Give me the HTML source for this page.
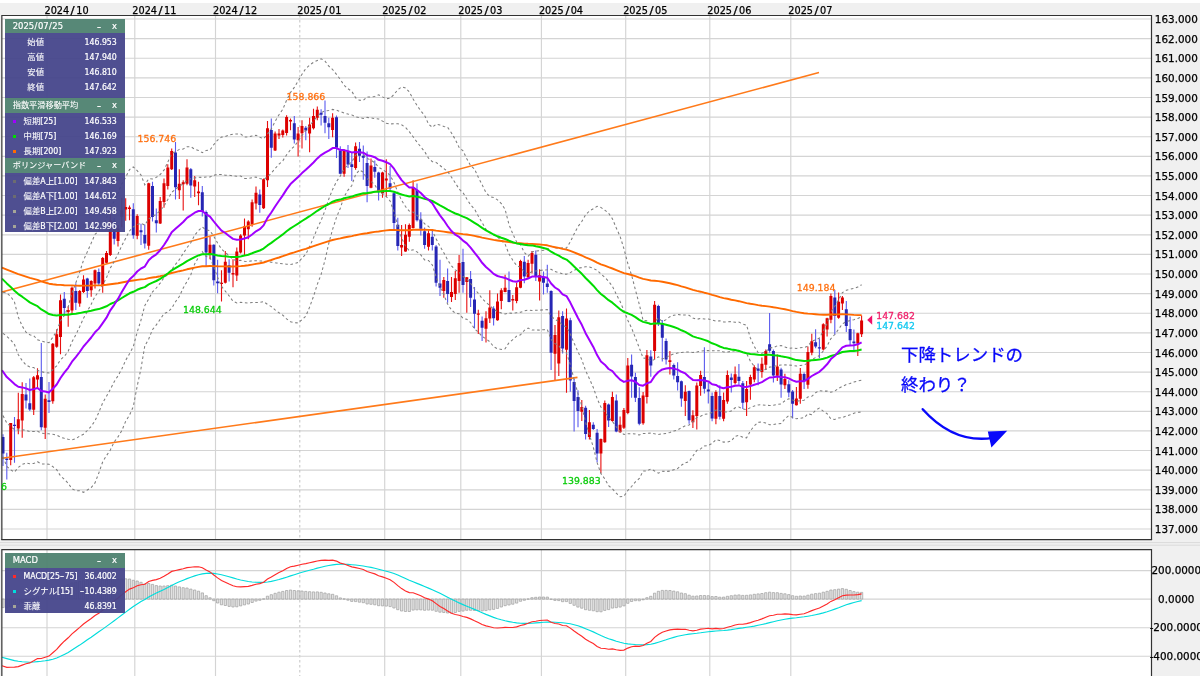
<!DOCTYPE html>
<html lang="ja"><head><meta charset="utf-8"><title>USD/JPY チャート</title>
<style>
html,body{margin:0;padding:0;}
body{width:1200px;height:676px;overflow:hidden;background:#f0f0f0;font-family:"DejaVu Sans","Liberation Sans","Noto Sans CJK JP",sans-serif;}
#app{position:relative;width:1200px;height:676px;overflow:hidden;background:#f0f0f0;}
#topline{position:absolute;left:0;top:0;width:1200px;height:3px;background:#fff;}
svg.chart{position:absolute;left:0;top:0;}
svg.chart text{font-family:"DejaVu Sans","Liberation Sans","Noto Sans CJK JP",sans-serif;}
svg.chart text.jp{font-family:"Liberation Sans","Noto Sans CJK JP",sans-serif;}
.xl{position:absolute;top:4px;font-family:"DejaVu Sans Condensed","DejaVu Sans",sans-serif;font-size:10.8px;line-height:14px;color:#000;white-space:nowrap;-webkit-text-stroke:0.25px #000;}
.xl s{text-decoration:none;margin:0 1.9px;display:inline-block;transform:scaleX(1.25);}
.yl{position:absolute;left:1146px;width:60.6px;text-align:center;font-size:10.4px;line-height:12px;height:12px;color:#000;white-space:nowrap;-webkit-text-stroke:0.25px #000;}
.panel{position:absolute;left:5.2px;width:120px;color:#fff;transform:rotate(0.01deg);font-family:"DejaVu Sans Condensed","DejaVu Sans","Liberation Sans","Noto Sans CJK JP",sans-serif;-webkit-text-stroke:0.2px #fff;}
.panel .hd{background:rgba(77,129,110,0.94);height:14.6px;line-height:15px;position:relative;}
.panel .hd .ttl{position:absolute;left:7.7px;top:0;font-size:9.4px;}
.panel .hd .ttl s{text-decoration:none;margin:0 0.45px;}
.panel .hd .ttl b{font-weight:normal;font-size:8.2px;-webkit-text-stroke:0.08px #fff;}
.panel .hd .mn{position:absolute;left:91.8px;top:0px;font-size:9.6px;display:inline-block;transform:scaleX(1.3);transform-origin:0 50%;margin-top:0.6px;}
.panel .hd .cl{position:absolute;left:106.9px;top:-0.2px;font-size:9.4px;}
.panel .bd{background:rgba(68,68,138,0.94);}
.panel .row{height:15px;line-height:15px;position:absolute;left:0;width:120px;}
.panel .row .k{position:absolute;left:22.3px;top:0;font-size:8.7px;}
.panel .row .k2{position:absolute;left:18.6px;top:0;font-size:8.7px;}
.panel .row b{font-weight:normal;font-size:8.4px;-webkit-text-stroke:0.08px #fff;}
.panel .row .v{position:absolute;right:8.2px;top:0;font-size:8.7px;}
.panel u{text-decoration:none;display:inline-block;width:0.53em;transform:scaleX(1.45);transform-origin:0 50%;}
.panel .row i{position:absolute;left:8.3px;top:6px;width:3px;height:3px;display:block;}
</style></head><body><div id="app">
<div id="topline"></div>
<svg class="chart" width="1200" height="676" viewBox="0 0 1200 676">
<defs><clipPath id="cm"><rect x="1.5" y="15.5" width="1149.5" height="524"/></clipPath><clipPath id="cd"><rect x="1.5" y="550.5" width="1149.5" height="130"/></clipPath></defs>
<rect x="2" y="15" width="1149" height="525" fill="#fff"/>
<rect x="2" y="550" width="1149" height="130" fill="#fff"/>
<path d="M2,529.0H1151M2,509.4H1151M2,489.8H1151M2,470.1H1151M2,450.5H1151M2,430.9H1151M2,411.3H1151M2,391.7H1151M2,372.1H1151M2,352.5H1151M2,332.8H1151M2,313.2H1151M2,293.6H1151M2,274.0H1151M2,254.4H1151M2,234.8H1151M2,215.1H1151M2,195.5H1151M2,175.9H1151M2,156.3H1151M2,136.7H1151M2,117.1H1151M2,97.5H1151M2,77.8H1151M2,58.2H1151M2,38.6H1151M2,19.0H1151" stroke="#d4d4d4" stroke-width="1.15" fill="none"/>
<path d="M47,15V540M47,550V676M134.8,15V540M134.8,550V676M215.5,15V540M215.5,550V676M384.7,15V540M384.7,550V676M460.8,15V540M460.8,550V676M541.4,15V540M541.4,550V676M625.7,15V540M625.7,550V676M709.8,15V540M709.8,550V676M790.8,15V540M790.8,550V676" stroke="#d4d4d4" stroke-width="1.15" fill="none"/>
<path d="M299.8,15V540M299.8,550V676" stroke="#c4c4c4" stroke-width="1" stroke-dasharray="2.5,2.5" fill="none"/>
<path d="M2,570.6H1151M2,599.1H1151M2,627.7H1151M2,656.2H1151" stroke="#d4d4d4" stroke-width="1.15" fill="none"/>
<g clip-path="url(#cm)">
<path d="M10.7,423.1V465.3M18.3,392.8V434.3M22.2,382.3V437.7M33.7,376.1V415.1M37.5,368.2V388.6M45.2,394.5V438.9M52.8,343.1V403.7M56.7,329.3V347.7M60.5,294.5V354.3M68.2,306.2V326.8M72.0,286.6V314.2M79.7,290.0V306.7M83.5,275.3V293.0M91.2,280.3V296.7M95.0,269.4V288.6M102.7,256.9V292.8M106.5,251.0V263.5M110.3,212.5V256.0M118.0,225.0V246.6M121.8,197.8V227.3M125.7,198.3V220.8M129.5,205.4V220.2M137.2,214.2V239.2M148.7,182.7V249.8M160.2,196.9V224.0M164.0,178.5V207.8M167.8,164.3V189.4M171.7,148.4V170.1M179.3,169.3V198.9M183.2,180.2V210.6M187.0,159.3V185.2M194.7,176.0V196.9M198.5,181.8V205.3M210.0,236.7V259.3M221.5,270.2V301.6M225.3,250.9V283.5M233.0,259.3V287.2M236.8,247.6V281.0M240.6,234.2V253.4M244.5,218.6V255.1M248.3,220.3V239.2M252.1,199.4V226.7M256.0,186.5V209.4M263.6,178.5V208.9M267.5,121.0V186.9M275.1,131.4V151.0M279.0,128.9V138.9M282.8,129.4V137.6M286.6,115.2V135.6M290.5,118.5V130.2M298.1,126.9V156.5M302.0,120.2V148.6M309.6,117.7V152.3M313.5,108.8V129.4M317.3,106.5V120.2M332.6,113.2V137.3M344.1,149.2V176.8M355.6,142.4V169.7M371.0,158.5V188.2M382.5,171.8V197.7M386.3,159.2V196.9M401.6,225.0V256.0M405.5,224.3V251.8M409.3,223.4V241.8M413.1,180.2V228.5M428.5,230.3V250.4M443.8,276.9V297.8M451.5,276.9V301.9M455.3,271.0V299.9M459.1,255.1V292.7M466.8,276.9V312.8M478.3,309.8V334.0M486.0,311.3V342.6M489.8,290.2V323.0M497.5,293.6V320.7M501.3,288.2V309.3M505.1,274.8V292.2M512.8,294.9V310.6M516.6,282.7V303.3M520.5,259.8V288.2M528.1,259.8V278.2M532.0,250.9V273.5M539.6,269.3V300.6M555.0,325.1V381.1M558.8,310.6V376.1M566.5,308.4V392.7M581.8,400.1V421.0M589.4,410.1V439.4M600.9,438.6V473.3M604.8,400.6V442.7M612.4,391.7V421.8M620.1,416.5V432.7M623.9,408.1V428.9M627.8,358.0V414.3M643.1,392.1V424.8M646.9,349.9V403.4M654.6,300.9V359.4M669.9,351.1V374.5M685.3,385.2V416.0M692.9,410.3V428.0M696.8,382.6V429.6M700.6,370.7V395.7M715.9,390.2V424.3M723.6,392.6V421.3M727.4,370.6V403.8M735.1,366.6V384.5M746.6,380.9V416.1M750.4,374.8V399.8M754.3,365.3V382.2M761.9,357.4V377.7M765.8,349.4V370.0M777.3,354.5V381.0M784.9,373.8V389.0M796.4,387.1V405.5M800.3,367.9V403.8M807.9,346.5V388.8M811.8,333.8V355.2M823.3,323.2V350.6M827.1,317.7V336.6M830.9,293.4V323.2M838.6,292.6V318.8M842.4,295.9V310.1M857.8,332.7V356.1M861.6,315.5V337.1" stroke="#e81010" stroke-width="1.1" fill="none"/>
<path d="M3.0,434.3V466.1M6.8,452.7V479.5M14.5,417.1V462.8M26.0,383.1V408.4M29.8,378.6V411.0M41.3,343.1V430.2M49.0,382.0V413.1M64.3,292.0V315.0M75.8,283.3V310.0M87.3,277.8V297.8M98.8,268.6V285.3M114.2,218.0V244.4M133.3,203.3V238.7M141.0,223.7V245.0M144.8,224.4V248.5M152.5,181.8V221.6M156.3,208.6V232.4M175.5,142.0V199.4M190.8,168.1V197.7M202.3,186.0V216.6M206.1,210.6V266.0M213.8,244.2V285.6M217.6,259.8V293.2M229.1,259.3V281.5M259.8,189.4V212.8M271.3,118.5V157.7M294.3,116.0V143.5M305.8,126.1V140.3M321.1,109.3V125.6M325.0,100.5V133.2M328.8,117.7V138.9M336.5,115.5V158.0M340.3,146.3V174.3M348.0,145.0V168.0M351.8,153.0V181.0M359.5,142.0V161.9M363.3,145.4V179.8M367.1,151.6V202.2M374.8,160.6V177.7M378.6,171.8V200.6M390.1,166.0V190.0M394.0,191.9V231.0M397.8,217.8V250.4M417.0,183.5V221.6M420.8,212.3V235.4M424.6,227.4V248.8M432.3,229.1V250.4M436.1,245.1V286.6M440.0,259.8V296.1M447.6,268.5V302.8M463.0,248.8V292.7M470.6,271.0V307.0M474.5,286.9V328.4M482.1,316.4V341.0M493.6,306.2V325.4M509.0,271.5V302.3M524.3,256.0V283.2M535.8,250.4V281.0M543.5,271.5V294.4M547.3,264.8V292.7M551.1,290.3V369.9M562.6,311.3V353.5M570.3,317.8V391.8M574.1,378.9V431.5M578.0,390.2V427.2M585.6,405.8V439.4M593.3,422.2V429.9M597.1,428.9V462.3M608.6,403.4V426.9M616.3,394.6V432.2M631.6,354.4V397.7M635.4,372.8V401.9M639.3,387.3V425.2M650.8,350.2V376.7M658.4,304.7V326.0M662.3,320.1V361.6M666.1,338.5V364.4M673.8,363.6V379.4M677.6,362.3V390.4M681.4,380.6V406.8M689.1,390.5V423.8M704.4,347.2V393.6M708.3,383.0V403.5M712.1,392.6V421.3M719.8,385.2V419.6M731.3,373.5V392.6M738.9,364.0V384.7M742.8,381.0V408.9M758.1,363.6V385.3M769.6,313.1V352.8M773.4,349.4V382.4M781.1,367.7V397.7M788.8,380.2V397.2M792.6,390.1V418.6M804.1,372.4V389.0M815.6,329.3V348.2M819.4,338.6V358.3M834.8,290.1V334.4M846.3,300.9V331.9M850.1,316.5V344.9M853.9,329.4V351.1" stroke="#5a5aee" stroke-width="1.1" fill="none"/>
<path d="M9.2,423.1h3V459.9h-3zM16.8,419.3h3V428.5h-3zM20.7,394.0h3V420.6h-3zM32.2,377.3h3V409.8h-3zM36.0,375.3h3V379.4h-3zM43.7,398.7h3V427.7h-3zM51.3,343.8h3V401.2h-3zM55.2,334.3h3V346.8h-3zM59.0,300.3h3V337.1h-3zM66.7,310.0h3V312.0h-3zM70.5,287.8h3V310.4h-3zM78.2,291.0h3V303.5h-3zM82.0,279.4h3V292.0h-3zM89.7,281.1h3V290.3h-3zM93.5,270.2h3V283.6h-3zM101.2,257.9h3V285.3h-3zM105.0,253.0h3V262.7h-3zM108.8,220.5h3V255.1h-3zM116.5,228.5h3V240.9h-3zM120.3,210.2h3V216.7h-3zM124.2,207.0h3V209.5h-3zM128.0,207.5h3V209.0h-3zM135.7,216.1h3V235.7h-3zM147.2,183.3h3V245.8h-3zM158.7,201.1h3V223.6h-3zM162.5,183.2h3V201.9h-3zM166.3,167.6h3V186.0h-3zM170.2,150.9h3V169.3h-3zM177.8,183.8h3V190.2h-3zM181.7,182.2h3V184.3h-3zM185.5,167.6h3V183.8h-3zM193.2,180.2h3V186.5h-3zM197.0,191.5h3V193.2h-3zM208.5,244.7h3V254.3h-3zM220.0,282.7h3V283.9h-3zM223.8,261.8h3V282.7h-3zM231.5,273.1h3V274.4h-3zM235.3,251.4h3V275.5h-3zM239.1,235.4h3V252.6h-3zM243.0,226.2h3V235.4h-3zM246.8,221.6h3V229.2h-3zM250.6,202.2h3V224.5h-3zM254.5,192.7h3V203.6h-3zM262.1,179.3h3V208.3h-3zM266.0,128.2h3V180.2h-3zM273.6,133.6h3V150.5h-3zM277.5,133.5h3V135.5h-3zM281.3,130.6h3V134.9h-3zM285.1,116.9h3V133.0h-3zM289.0,119.9h3V121.5h-3zM296.6,133.5h3V140.2h-3zM300.5,126.1h3V133.2h-3zM308.1,124.4h3V133.6h-3zM312.0,116.0h3V128.2h-3zM315.8,109.8h3V117.7h-3zM331.1,117.7h3V129.9h-3zM342.6,150.6h3V173.8h-3zM354.1,146.3h3V168.0h-3zM369.5,165.6h3V187.7h-3zM381.0,172.6h3V193.2h-3zM384.8,178.5h3V180.5h-3zM400.1,245.1h3V247.6h-3zM404.0,234.8h3V251.4h-3zM407.8,225.1h3V236.8h-3zM411.6,187.7h3V227.9h-3zM427.0,233.3h3V246.8h-3zM442.3,279.9h3V291.1h-3zM450.0,291.9h3V296.9h-3zM453.8,278.2h3V293.9h-3zM457.6,263.1h3V281.0h-3zM465.3,277.2h3V281.9h-3zM476.8,313.5h3V314.8h-3zM484.5,318.2h3V328.8h-3zM488.3,307.6h3V318.5h-3zM496.0,301.6h3V320.2h-3zM499.8,290.2h3V301.1h-3zM503.6,287.7h3V291.9h-3zM511.3,298.9h3V300.6h-3zM515.1,287.2h3V301.1h-3zM519.0,261.0h3V287.7h-3zM526.6,263.1h3V277.2h-3zM530.5,253.1h3V263.8h-3zM538.1,275.2h3V281.5h-3zM553.5,335.1h3V353.8h-3zM557.3,317.2h3V363.5h-3zM565.0,318.5h3V349.8h-3zM580.3,407.1h3V411.8h-3zM587.9,422.2h3V436.9h-3zM599.4,438.9h3V453.6h-3zM603.3,403.0h3V442.2h-3zM610.9,396.9h3V421.0h-3zM618.6,424.8h3V432.2h-3zM622.4,410.1h3V427.7h-3zM626.3,365.5h3V413.1h-3zM641.6,395.4h3V423.2h-3zM645.4,355.3h3V397.1h-3zM653.1,304.7h3V351.1h-3zM668.4,360.3h3V362.0h-3zM683.8,391.7h3V400.9h-3zM691.4,415.2h3V422.2h-3zM695.3,385.4h3V416.0h-3zM699.1,375.0h3V386.0h-3zM714.4,392.0h3V418.8h-3zM722.1,400.0h3V418.7h-3zM725.9,374.9h3V401.6h-3zM733.6,374.3h3V383.1h-3zM745.1,388.9h3V402.2h-3zM748.9,376.9h3V384.6h-3zM752.8,367.2h3V379.6h-3zM760.4,363.8h3V372.0h-3zM764.3,351.0h3V364.8h-3zM775.8,366.6h3V375.8h-3zM783.4,378.9h3V385.3h-3zM794.9,398.5h3V405.2h-3zM798.8,373.7h3V398.8h-3zM806.4,352.0h3V384.7h-3zM810.3,341.3h3V352.8h-3zM821.8,324.3h3V349.4h-3zM825.6,318.2h3V329.4h-3zM829.4,295.9h3V319.8h-3zM837.1,301.8h3V317.7h-3zM840.9,297.6h3V303.4h-3zM856.3,333.2h3V343.6h-3zM860.1,320.5h3V334.3h-3z" fill="#dc0000"/>
<path d="M1.5,436.9h3V453.6h-3zM5.3,458.6h3V460.0h-3zM13.0,424.8h3V426.0h-3zM24.5,394.5h3V400.6h-3zM28.3,403.2h3V409.6h-3zM39.8,376.9h3V427.2h-3zM47.5,400.3h3V402.0h-3zM62.8,298.7h3V308.0h-3zM74.3,291.1h3V302.8h-3zM85.8,278.6h3V291.1h-3zM97.3,271.9h3V283.6h-3zM112.7,221.0h3V238.8h-3zM131.8,209.2h3V235.3h-3zM139.5,230.3h3V232.3h-3zM143.3,235.0h3V243.6h-3zM151.0,186.0h3V217.0h-3zM154.8,220.3h3V223.3h-3zM174.0,152.6h3V187.2h-3zM189.3,169.3h3V185.5h-3zM200.8,192.2h3V211.1h-3zM204.6,211.9h3V252.6h-3zM212.3,244.7h3V280.2h-3zM216.1,281.5h3V283.2h-3zM227.6,265.2h3V272.7h-3zM258.3,194.4h3V204.9h-3zM269.8,129.9h3V147.7h-3zM292.8,123.2h3V139.6h-3zM304.3,127.7h3V130.6h-3zM319.6,112.7h3V114.8h-3zM323.5,116.0h3V122.7h-3zM327.3,123.2h3V127.2h-3zM335.0,117.2h3V147.7h-3zM338.8,150.6h3V173.8h-3zM346.5,151.8h3V164.6h-3zM350.3,164.2h3V166.9h-3zM358.0,148.8h3V155.8h-3zM361.8,155.8h3V157.7h-3zM365.6,163.0h3V186.0h-3zM373.3,167.0h3V171.8h-3zM377.1,172.6h3V191.0h-3zM388.6,183.2h3V188.5h-3zM392.5,193.2h3V223.0h-3zM396.3,224.8h3V245.9h-3zM415.5,189.9h3V220.3h-3zM419.3,219.5h3V228.7h-3zM423.1,231.3h3V245.1h-3zM430.8,236.8h3V245.1h-3zM434.6,246.4h3V282.7h-3zM438.5,283.5h3V287.7h-3zM446.1,281.0h3V293.9h-3zM461.5,262.1h3V284.9h-3zM469.1,278.9h3V297.8h-3zM473.0,299.4h3V313.8h-3zM480.6,320.8h3V327.8h-3zM492.1,308.6h3V318.2h-3zM507.5,289.9h3V301.9h-3zM522.8,261.8h3V276.5h-3zM534.3,254.8h3V276.9h-3zM542.0,276.9h3V282.7h-3zM545.8,283.5h3V286.9h-3zM549.6,291.1h3V352.7h-3zM561.1,316.0h3V348.5h-3zM568.8,320.2h3V380.5h-3zM572.6,382.0h3V401.0h-3zM576.5,396.9h3V411.1h-3zM584.1,407.7h3V433.9h-3zM591.8,424.8h3V428.9h-3zM595.6,432.7h3V453.6h-3zM607.1,404.4h3V420.5h-3zM614.8,400.6h3V431.5h-3zM630.1,364.7h3V376.4h-3zM633.9,377.0h3V397.7h-3zM637.8,398.1h3V423.8h-3zM649.3,356.6h3V365.6h-3zM656.9,305.9h3V323.8h-3zM660.8,323.8h3V337.7h-3zM664.6,341.0h3V359.4h-3zM672.3,365.0h3V375.5h-3zM676.1,376.0h3V382.2h-3zM679.9,381.3h3V398.4h-3zM687.6,391.0h3V420.2h-3zM702.9,377.0h3V388.8h-3zM706.8,389.5h3V391.6h-3zM710.6,396.0h3V418.4h-3zM718.3,396.0h3V416.7h-3zM729.8,377.5h3V380.0h-3zM737.4,376.8h3V381.0h-3zM741.3,383.2h3V402.7h-3zM756.6,368.5h3V370.8h-3zM768.1,344.2h3V350.8h-3zM771.9,351.0h3V375.5h-3zM779.6,369.6h3V384.6h-3zM787.3,384.2h3V392.6h-3zM791.1,391.5h3V403.8h-3zM802.6,374.1h3V381.3h-3zM814.1,342.2h3V346.6h-3zM817.9,347.3h3V348.6h-3zM833.3,297.6h3V316.0h-3zM844.8,309.3h3V326.0h-3zM848.6,328.9h3V340.2h-3zM852.4,341.6h3V343.2h-3z" fill="#2626b4"/>
<path d="M2,292L819,72.5" stroke="#ff7a1a" stroke-width="1.6" fill="none"/>
<path d="M2,458.2L577.5,377.4" stroke="#ff7a1a" stroke-width="1.6" fill="none"/>
<path d="M3.0,292.2 L6.8,292.9 L10.7,296.5 L14.5,302.1 L18.3,317.1 L22.2,326.0 L26.0,332.1 L29.8,334.8 L33.7,335.7 L37.5,339.8 L41.3,341.0 L45.2,342.2 L49.0,342.6 L52.8,337.2 L56.7,331.1 L60.5,320.9 L64.3,315.5 L68.2,307.1 L72.0,292.8 L75.8,282.9 L79.7,272.1 L83.5,260.2 L87.3,251.9 L91.2,243.1 L95.0,234.4 L98.8,230.7 L102.7,225.8 L106.5,218.4 L110.3,207.4 L114.2,201.2 L118.0,193.0 L121.8,183.9 L125.7,177.2 L129.5,169.6 L133.3,167.0 L137.2,170.7 L141.0,175.0 L144.8,184.8 L148.7,178.8 L152.5,178.9 L156.3,177.4 L160.2,174.5 L164.0,170.1 L167.8,162.1 L171.7,153.6 L175.5,151.8 L179.3,149.4 L183.2,149.1 L187.0,146.8 L190.8,146.7 L194.7,149.2 L198.5,150.4 L202.3,152.7 L206.1,150.5 L210.0,150.0 L213.8,144.6 L217.6,140.1 L221.5,137.1 L225.3,136.6 L229.1,135.0 L233.0,134.1 L236.8,133.9 L240.6,133.9 L244.5,136.9 L248.3,137.1 L252.1,135.9 L256.0,135.2 L259.8,137.2 L263.6,138.8 L267.5,134.2 L271.3,128.8 L275.1,121.5 L279.0,114.7 L282.8,109.3 L286.6,100.2 L290.5,92.5 L294.3,87.4 L298.1,81.0 L302.0,74.2 L305.8,68.5 L309.6,65.1 L313.5,62.3 L317.3,60.5 L321.1,58.8 L325.0,61.1 L328.8,66.2 L332.6,69.5 L336.5,74.4 L340.3,79.4 L344.1,85.2 L348.0,88.8 L351.8,91.3 L355.6,97.8 L359.5,100.3 L363.3,100.4 L367.1,97.0 L371.0,96.9 L374.8,96.5 L378.6,94.8 L382.5,96.9 L386.3,98.7 L390.1,98.2 L394.0,94.5 L397.8,89.7 L401.6,87.0 L405.5,87.9 L409.3,91.9 L413.1,99.1 L417.0,105.4 L420.8,110.9 L424.6,115.4 L428.5,124.0 L432.3,127.3 L436.1,124.2 L440.0,125.1 L443.8,126.4 L447.6,127.3 L451.5,133.0 L455.3,139.5 L459.1,147.4 L463.0,150.8 L466.8,158.8 L470.6,165.6 L474.5,169.0 L478.3,177.3 L482.1,184.7 L486.0,192.7 L489.8,196.5 L493.6,197.6 L497.5,199.8 L501.3,203.6 L505.1,209.3 L509.0,224.6 L512.8,233.8 L516.6,242.0 L520.5,244.7 L524.3,252.5 L528.1,256.3 L532.0,252.0 L535.8,251.1 L539.6,250.7 L543.5,250.2 L547.3,250.0 L551.1,246.0 L555.0,247.6 L558.8,248.4 L562.6,247.8 L566.5,248.1 L570.3,241.9 L574.1,234.0 L578.0,226.5 L581.8,221.5 L585.6,214.8 L589.4,211.0 L593.3,208.8 L597.1,206.4 L600.9,207.4 L604.8,210.2 L608.6,213.2 L612.4,218.8 L616.3,228.0 L620.1,236.4 L623.9,248.6 L627.8,263.4 L631.6,275.3 L635.4,289.7 L639.3,304.4 L643.1,320.4 L646.9,320.8 L650.8,325.2 L654.6,322.3 L658.4,318.0 L662.3,321.6 L666.1,319.6 L669.9,316.7 L673.8,315.3 L677.6,314.4 L681.4,315.0 L685.3,315.0 L689.1,315.3 L692.9,318.0 L696.8,319.3 L700.6,318.5 L704.4,319.0 L708.3,319.0 L712.1,320.0 L715.9,321.1 L719.8,320.8 L723.6,322.0 L727.4,321.9 L731.3,321.6 L735.1,322.3 L738.9,322.1 L742.8,324.1 L746.6,325.3 L750.4,338.0 L754.3,346.5 L758.1,352.6 L761.9,353.3 L765.8,351.6 L769.6,347.9 L773.4,347.5 L777.3,345.8 L781.1,345.6 L784.9,346.9 L788.8,348.3 L792.6,347.9 L796.4,348.5 L800.3,347.7 L804.1,347.5 L807.9,346.1 L811.8,341.1 L815.6,340.0 L819.4,338.0 L823.3,330.9 L827.1,323.5 L830.9,311.9 L834.8,306.2 L838.6,299.7 L842.4,292.6 L846.3,290.2 L850.1,289.2 L853.9,288.5 L857.8,287.1 L861.6,284.8" stroke="#7e7e7e" stroke-width="1.05" stroke-dasharray="2.6,2.6" fill="none"/>
<path d="M3.0,333.3 L6.8,336.3 L10.7,339.8 L14.5,344.6 L18.3,354.7 L22.2,360.6 L26.0,364.9 L29.8,367.0 L33.7,367.6 L37.5,370.2 L41.3,371.7 L45.2,372.6 L49.0,373.0 L52.8,369.6 L56.7,365.8 L60.5,359.7 L64.3,356.4 L68.2,351.2 L72.0,341.8 L75.8,334.8 L79.7,326.7 L83.5,318.3 L87.3,311.4 L91.2,304.2 L95.0,296.5 L98.8,291.3 L102.7,284.8 L106.5,277.7 L110.3,268.1 L114.2,261.4 L118.0,253.9 L121.8,245.6 L125.7,238.2 L129.5,231.0 L133.3,226.9 L137.2,224.5 L141.0,223.3 L144.8,225.1 L148.7,218.9 L152.5,216.6 L156.3,214.3 L160.2,210.7 L164.0,206.0 L167.8,199.5 L171.7,192.3 L175.5,189.3 L179.3,186.2 L183.2,183.9 L187.0,180.4 L190.8,178.7 L194.7,177.9 L198.5,177.2 L202.3,177.4 L206.1,177.0 L210.0,176.9 L213.8,175.2 L217.6,174.4 L221.5,174.4 L225.3,175.3 L229.1,175.2 L233.0,175.9 L236.8,176.2 L240.6,176.0 L244.5,178.4 L248.3,178.5 L252.1,177.6 L256.0,177.0 L259.8,178.5 L263.6,179.5 L267.5,176.7 L271.3,173.2 L275.1,168.6 L279.0,164.2 L282.8,160.8 L286.6,154.8 L290.5,149.8 L294.3,146.2 L298.1,141.4 L302.0,135.5 L305.8,130.4 L309.6,125.6 L313.5,120.9 L317.3,116.5 L321.1,112.7 L325.0,110.8 L328.8,110.5 L332.6,109.4 L336.5,110.2 L340.3,111.6 L344.1,113.1 L348.0,114.1 L351.8,114.9 L355.6,116.9 L359.5,117.7 L363.3,118.4 L367.1,117.4 L371.0,118.0 L374.8,118.6 L378.6,118.9 L382.5,121.1 L386.3,123.2 L390.1,123.9 L394.0,123.8 L397.8,123.8 L401.6,124.8 L405.5,127.4 L409.3,131.6 L413.1,136.8 L417.0,142.1 L420.8,146.9 L424.6,151.5 L428.5,158.1 L432.3,161.7 L436.1,162.4 L440.0,165.5 L443.8,168.5 L447.6,171.5 L451.5,177.2 L455.3,182.9 L459.1,189.0 L463.0,192.7 L466.8,198.9 L470.6,204.9 L474.5,209.0 L478.3,216.0 L482.1,222.6 L486.0,229.3 L489.8,232.9 L493.6,234.8 L497.5,237.1 L501.3,240.1 L505.1,244.2 L509.0,254.1 L512.8,260.3 L516.6,265.5 L520.5,267.2 L524.3,272.0 L528.1,274.2 L532.0,271.5 L535.8,270.9 L539.6,270.5 L543.5,270.0 L547.3,269.8 L551.1,269.3 L555.0,271.6 L558.8,272.6 L562.6,273.8 L566.5,274.3 L570.3,272.6 L574.1,270.4 L578.0,268.3 L581.8,267.6 L585.6,266.7 L589.4,266.9 L593.3,268.4 L597.1,270.4 L600.9,274.0 L604.8,277.4 L608.6,281.3 L612.4,286.3 L616.3,294.3 L620.1,301.5 L623.9,310.5 L627.8,320.2 L631.6,328.1 L635.4,337.7 L639.3,347.9 L643.1,358.1 L646.9,358.3 L650.8,361.2 L654.6,359.4 L658.4,356.8 L662.3,359.0 L666.1,357.6 L669.9,355.3 L673.8,353.9 L677.6,353.0 L681.4,352.5 L685.3,351.9 L689.1,351.9 L692.9,352.5 L696.8,352.1 L700.6,351.1 L704.4,350.7 L708.3,350.6 L712.1,350.8 L715.9,350.8 L719.8,350.7 L723.6,352.0 L727.4,352.0 L731.3,351.4 L735.1,350.8 L738.9,350.4 L742.8,352.3 L746.6,353.4 L750.4,361.2 L754.3,366.3 L758.1,370.1 L761.9,370.5 L765.8,369.4 L769.6,367.1 L773.4,366.8 L777.3,365.3 L781.1,365.1 L784.9,364.9 L788.8,365.1 L792.6,365.3 L796.4,366.0 L800.3,365.4 L804.1,365.0 L807.9,363.0 L811.8,359.5 L815.6,357.6 L819.4,355.5 L823.3,351.0 L827.1,346.0 L830.9,338.6 L834.8,334.5 L838.6,329.2 L842.4,323.9 L846.3,321.6 L850.1,320.6 L853.9,319.7 L857.8,318.4 L861.6,316.7" stroke="#7e7e7e" stroke-width="1.05" stroke-dasharray="2.6,2.6" fill="none"/>
<path d="M3.0,415.6 L6.8,423.1 L10.7,426.4 L14.5,429.6 L18.3,429.9 L22.2,429.8 L26.0,430.3 L29.8,431.5 L33.7,431.5 L37.5,431.2 L41.3,433.1 L45.2,433.5 L49.0,433.8 L52.8,434.3 L56.7,435.0 L60.5,437.2 L64.3,438.3 L68.2,439.3 L72.0,439.8 L75.8,438.7 L79.7,436.1 L83.5,434.3 L87.3,430.5 L91.2,426.4 L95.0,420.8 L98.8,412.4 L102.7,402.8 L106.5,396.3 L110.3,389.4 L114.2,381.7 L118.0,375.9 L121.8,369.0 L125.7,360.2 L129.5,353.8 L133.3,346.7 L137.2,332.2 L141.0,320.1 L144.8,305.6 L148.7,299.0 L152.5,291.9 L156.3,288.0 L160.2,283.1 L164.0,277.7 L167.8,274.5 L171.7,269.6 L175.5,264.3 L179.3,259.7 L183.2,253.4 L187.0,247.7 L190.8,242.7 L194.7,235.2 L198.5,230.6 L202.3,227.0 L206.1,230.0 L210.0,230.6 L213.8,236.4 L217.6,243.0 L221.5,249.1 L225.3,252.6 L229.1,255.6 L233.0,259.5 L236.8,260.7 L240.6,260.2 L244.5,261.3 L248.3,261.5 L252.1,260.8 L256.0,260.7 L259.8,261.0 L263.6,260.9 L267.5,261.8 L271.3,262.2 L275.1,262.8 L279.0,263.3 L282.8,263.7 L286.6,264.2 L290.5,264.4 L294.3,263.8 L298.1,262.4 L302.0,258.2 L305.8,254.2 L309.6,246.6 L313.5,237.9 L317.3,228.4 L321.1,220.5 L325.0,210.4 L328.8,199.0 L332.6,189.4 L336.5,181.6 L340.3,176.0 L344.1,168.8 L348.0,164.8 L351.8,162.0 L355.6,155.2 L359.5,152.6 L363.3,154.3 L367.1,158.3 L371.0,160.3 L374.8,162.7 L378.6,167.2 L382.5,169.5 L386.3,172.1 L390.1,175.3 L394.0,182.5 L397.8,192.1 L401.6,200.4 L405.5,206.5 L409.3,211.1 L413.1,212.1 L417.0,215.3 L420.8,218.9 L424.6,223.8 L428.5,226.4 L432.3,230.6 L436.1,238.7 L440.0,246.4 L443.8,252.7 L447.6,259.9 L451.5,265.8 L455.3,269.9 L459.1,272.2 L463.0,276.4 L466.8,279.2 L470.6,283.3 L474.5,289.0 L478.3,293.3 L482.1,298.6 L486.0,302.3 L489.8,305.5 L493.6,309.3 L497.5,311.6 L501.3,313.0 L505.1,313.9 L509.0,313.1 L512.8,313.2 L516.6,312.7 L520.5,312.3 L524.3,310.9 L528.1,310.1 L532.0,310.5 L535.8,310.3 L539.6,310.2 L543.5,309.8 L547.3,309.6 L551.1,316.1 L555.0,319.6 L558.8,321.1 L562.6,325.7 L566.5,326.8 L570.3,333.9 L574.1,343.1 L578.0,351.8 L581.8,359.7 L585.6,370.6 L589.4,378.7 L593.3,387.5 L597.1,398.5 L600.9,407.0 L604.8,411.7 L608.6,417.5 L612.4,421.3 L616.3,426.9 L620.1,431.6 L623.9,434.4 L627.8,433.7 L631.6,433.7 L635.4,433.9 L639.3,435.0 L643.1,433.5 L646.9,433.4 L650.8,433.1 L654.6,433.8 L658.4,434.4 L662.3,433.8 L666.1,433.5 L669.9,432.5 L673.8,431.1 L677.6,430.0 L681.4,427.6 L685.3,425.8 L689.1,425.1 L692.9,421.5 L696.8,417.6 L700.6,416.3 L704.4,414.2 L708.3,413.9 L712.1,412.6 L715.9,410.0 L719.8,410.6 L723.6,412.1 L727.4,412.0 L731.3,411.1 L735.1,407.8 L738.9,407.0 L742.8,408.9 L746.6,409.7 L750.4,407.6 L754.3,406.0 L758.1,404.9 L761.9,404.8 L765.8,405.2 L769.6,405.5 L773.4,405.3 L777.3,404.3 L781.1,403.9 L784.9,400.8 L788.8,398.8 L792.6,400.0 L796.4,401.2 L800.3,400.7 L804.1,400.2 L807.9,396.9 L811.8,396.3 L815.6,392.7 L819.4,390.6 L823.3,391.1 L827.1,391.1 L830.9,392.2 L834.8,391.1 L838.6,388.3 L842.4,386.4 L846.3,384.5 L850.1,383.4 L853.9,382.1 L857.8,381.0 L861.6,380.3" stroke="#7e7e7e" stroke-width="1.05" stroke-dasharray="2.6,2.6" fill="none"/>
<path d="M3.0,456.8 L6.8,466.5 L10.7,469.8 L14.5,472.1 L18.3,467.5 L22.2,464.4 L26.0,463.0 L29.8,463.7 L33.7,463.5 L37.5,461.7 L41.3,463.9 L45.2,464.0 L49.0,464.2 L52.8,466.6 L56.7,469.7 L60.5,476.0 L64.3,479.2 L68.2,483.3 L72.0,488.8 L75.8,490.7 L79.7,490.7 L83.5,492.3 L87.3,490.0 L91.2,487.5 L95.0,482.9 L98.8,473.0 L102.7,461.8 L106.5,455.6 L110.3,450.1 L114.2,441.9 L118.0,436.9 L121.8,430.7 L125.7,421.2 L129.5,415.2 L133.3,406.6 L137.2,386.1 L141.0,368.4 L144.8,345.9 L148.7,339.0 L152.5,329.6 L156.3,324.9 L160.2,319.3 L164.0,313.6 L167.8,312.0 L171.7,308.2 L175.5,301.8 L179.3,296.5 L183.2,288.1 L187.0,281.4 L190.8,274.7 L194.7,263.9 L198.5,257.4 L202.3,251.7 L206.1,256.5 L210.0,257.5 L213.8,267.0 L217.6,277.3 L221.5,286.4 L225.3,291.2 L229.1,295.8 L233.0,301.3 L236.8,303.0 L240.6,302.3 L244.5,302.8 L248.3,303.0 L252.1,302.5 L256.0,302.5 L259.8,302.3 L263.6,301.6 L267.5,304.4 L271.3,306.6 L275.1,309.9 L279.0,312.8 L282.8,315.2 L286.6,318.9 L290.5,321.7 L294.3,322.6 L298.1,322.9 L302.0,319.6 L305.8,316.1 L309.6,307.1 L313.5,296.4 L317.3,284.4 L321.1,274.4 L325.0,260.1 L328.8,243.3 L332.6,229.3 L336.5,217.4 L340.3,208.2 L344.1,196.7 L348.0,190.1 L351.8,185.5 L355.6,174.4 L359.5,170.0 L363.3,172.2 L367.1,178.7 L371.0,181.4 L374.8,184.8 L378.6,191.4 L382.5,193.7 L386.3,196.6 L390.1,201.0 L394.0,211.9 L397.8,226.2 L401.6,238.1 L405.5,246.1 L409.3,250.8 L413.1,249.8 L417.0,251.9 L420.8,254.9 L424.6,259.9 L428.5,260.5 L432.3,265.0 L436.1,276.8 L440.0,286.9 L443.8,294.8 L447.6,304.1 L451.5,310.0 L455.3,313.3 L459.1,313.8 L463.0,318.3 L466.8,319.3 L470.6,322.5 L474.5,329.0 L478.3,332.0 L482.1,336.5 L486.0,338.8 L489.8,341.8 L493.6,346.6 L497.5,348.8 L501.3,349.4 L505.1,348.8 L509.0,342.6 L512.8,339.7 L516.6,336.2 L520.5,334.8 L524.3,330.4 L528.1,328.1 L532.0,330.0 L535.8,330.0 L539.6,330.1 L543.5,329.7 L547.3,329.5 L551.1,339.4 L555.0,343.6 L558.8,345.4 L562.6,351.7 L566.5,353.0 L570.3,364.6 L574.1,379.4 L578.0,393.6 L581.8,405.7 L585.6,422.5 L589.4,434.6 L593.3,447.1 L597.1,462.6 L600.9,473.6 L604.8,478.9 L608.6,485.7 L612.4,488.8 L616.3,493.2 L620.1,496.7 L623.9,496.3 L627.8,490.5 L631.6,486.5 L635.4,481.9 L639.3,478.5 L643.1,471.1 L646.9,471.0 L650.8,469.0 L654.6,471.0 L658.4,473.2 L662.3,471.2 L666.1,471.5 L669.9,471.1 L673.8,469.7 L677.6,468.6 L681.4,465.2 L685.3,462.8 L689.1,461.7 L692.9,456.0 L696.8,450.4 L700.6,448.9 L704.4,445.9 L708.3,445.5 L712.1,443.5 L715.9,439.7 L719.8,440.6 L723.6,442.1 L727.4,442.0 L731.3,441.0 L735.1,436.3 L738.9,435.4 L742.8,437.2 L746.6,437.8 L750.4,430.8 L754.3,425.9 L758.1,422.4 L761.9,422.0 L765.8,423.1 L769.6,424.7 L773.4,424.6 L777.3,423.8 L781.1,423.4 L784.9,418.8 L788.8,415.6 L792.6,417.4 L796.4,418.8 L800.3,418.3 L804.1,417.7 L807.9,413.8 L811.8,414.7 L815.6,410.2 L819.4,408.1 L823.3,411.1 L827.1,413.7 L830.9,419.0 L834.8,419.4 L838.6,417.9 L842.4,417.7 L846.3,416.0 L850.1,414.8 L853.9,413.3 L857.8,412.2 L861.6,412.1" stroke="#7e7e7e" stroke-width="1.05" stroke-dasharray="2.6,2.6" fill="none"/>
<path d="M2.0,267.7 L6.8,269.6 L10.7,271.1 L14.5,272.7 L18.3,274.1 L22.2,275.3 L26.0,276.6 L29.8,277.9 L33.7,278.9 L37.5,279.9 L41.3,281.3 L45.2,282.5 L49.0,283.7 L52.8,284.3 L56.7,284.8 L60.5,284.9 L64.3,285.2 L68.2,285.4 L72.0,285.4 L75.8,285.6 L79.7,285.7 L83.5,285.6 L87.3,285.6 L91.2,285.6 L95.0,285.4 L98.8,285.4 L102.7,285.2 L106.5,284.8 L110.3,284.2 L114.2,283.7 L118.0,283.2 L121.8,282.5 L125.7,281.7 L129.5,281.0 L133.3,280.5 L137.2,279.9 L141.0,279.4 L144.8,279.1 L148.7,278.1 L152.5,277.5 L156.3,277.0 L160.2,276.2 L164.0,275.3 L167.8,274.2 L171.7,273.0 L175.5,272.1 L179.3,271.2 L183.2,270.4 L187.0,269.3 L190.8,268.5 L194.7,267.6 L198.5,266.9 L202.3,266.3 L206.1,266.2 L210.0,266.0 L213.8,266.1 L217.6,266.3 L221.5,266.4 L225.3,266.4 L229.1,266.5 L233.0,266.5 L236.8,266.4 L240.6,266.1 L244.5,265.7 L248.3,265.2 L252.1,264.6 L256.0,263.9 L259.8,263.3 L263.6,262.5 L267.5,261.1 L271.3,260.0 L275.1,258.7 L279.0,257.5 L282.8,256.2 L286.6,254.8 L290.5,253.5 L294.3,252.4 L298.1,251.2 L302.0,249.9 L305.8,248.8 L309.6,247.5 L313.5,246.2 L317.3,244.8 L321.1,243.6 L325.0,242.4 L328.8,241.2 L332.6,240.0 L336.5,239.1 L340.3,238.4 L344.1,237.5 L348.0,236.8 L351.8,236.1 L355.6,235.2 L359.5,234.4 L363.3,233.7 L367.1,233.2 L371.0,232.5 L374.8,231.9 L378.6,231.5 L382.5,230.9 L386.3,230.4 L390.1,230.0 L394.0,229.9 L397.8,230.1 L401.6,230.2 L405.5,230.3 L409.3,230.2 L413.1,229.8 L417.0,229.7 L420.8,229.7 L424.6,229.8 L428.5,229.9 L432.3,230.0 L436.1,230.6 L440.0,231.1 L443.8,231.6 L447.6,232.2 L451.5,232.8 L455.3,233.3 L459.1,233.6 L463.0,234.1 L466.8,234.5 L470.6,235.1 L474.5,235.9 L478.3,236.7 L482.1,237.6 L486.0,238.4 L489.8,239.1 L493.6,239.9 L497.5,240.5 L501.3,241.0 L505.1,241.5 L509.0,242.1 L512.8,242.6 L516.6,243.1 L520.5,243.2 L524.3,243.6 L528.1,243.8 L532.0,243.9 L535.8,244.2 L539.6,244.5 L543.5,244.9 L547.3,245.3 L551.1,246.4 L555.0,247.2 L558.8,247.9 L562.6,248.9 L566.5,249.6 L570.3,250.9 L574.1,252.4 L578.0,254.0 L581.8,255.5 L585.6,257.3 L589.4,258.9 L593.3,260.6 L597.1,262.6 L600.9,264.3 L604.8,265.7 L608.6,267.2 L612.4,268.5 L616.3,270.1 L620.1,271.7 L623.9,273.1 L627.8,274.0 L631.6,275.0 L635.4,276.2 L639.3,277.7 L643.1,278.9 L646.9,279.6 L650.8,280.5 L654.6,280.7 L658.4,281.1 L662.3,281.7 L666.1,282.5 L669.9,283.3 L673.8,284.2 L677.6,285.1 L681.4,286.3 L685.3,287.3 L689.1,288.6 L692.9,289.9 L696.8,290.9 L700.6,291.7 L704.4,292.7 L708.3,293.6 L712.1,294.9 L715.9,295.9 L719.8,297.1 L723.6,298.1 L727.4,298.8 L731.3,299.7 L735.1,300.4 L738.9,301.2 L742.8,302.2 L746.6,303.1 L750.4,303.8 L754.3,304.4 L758.1,305.1 L761.9,305.7 L765.8,306.1 L769.6,306.6 L773.4,307.3 L777.3,307.9 L781.1,308.6 L784.9,309.3 L788.8,310.1 L792.6,311.1 L796.4,311.9 L800.3,312.6 L804.1,313.2 L807.9,313.6 L811.8,313.9 L815.6,314.2 L819.4,314.6 L823.3,314.7 L827.1,314.7 L830.9,314.5 L834.8,314.5 L838.6,314.4 L842.4,314.2 L846.3,314.4 L850.1,314.6 L853.9,314.9 L857.8,315.1 L861.6,315.1" stroke="#ff6a00" stroke-width="1.9" fill="none" stroke-linejoin="round"/>
<path d="M2.0,278.6 L6.8,283.4 L10.7,287.1 L14.5,290.7 L18.3,294.1 L22.2,296.7 L26.0,299.5 L29.8,302.4 L33.7,304.3 L37.5,306.2 L41.3,309.4 L45.2,311.7 L49.0,314.1 L52.8,314.9 L56.7,315.4 L60.5,315.0 L64.3,314.8 L68.2,314.7 L72.0,314.0 L75.8,313.7 L79.7,313.1 L83.5,312.2 L87.3,311.6 L91.2,310.8 L95.0,309.8 L98.8,309.1 L102.7,307.7 L106.5,306.3 L110.3,304.0 L114.2,302.3 L118.0,300.4 L121.8,298.0 L125.7,295.6 L129.5,293.3 L133.3,291.8 L137.2,289.8 L141.0,288.3 L144.8,287.1 L148.7,284.4 L152.5,282.6 L156.3,281.0 L160.2,278.9 L164.0,276.4 L167.8,273.5 L171.7,270.3 L175.5,268.1 L179.3,265.9 L183.2,263.7 L187.0,261.2 L190.8,259.2 L194.7,257.1 L198.5,255.4 L202.3,254.2 L206.1,254.2 L210.0,253.9 L213.8,254.6 L217.6,255.4 L221.5,256.1 L225.3,256.2 L229.1,256.7 L233.0,257.1 L236.8,257.0 L240.6,256.4 L244.5,255.6 L248.3,254.7 L252.1,253.3 L256.0,251.7 L259.8,250.5 L263.6,248.6 L267.5,245.4 L271.3,242.9 L275.1,240.0 L279.0,237.2 L282.8,234.4 L286.6,231.3 L290.5,228.4 L294.3,226.0 L298.1,223.6 L302.0,221.0 L305.8,218.7 L309.6,216.2 L313.5,213.5 L317.3,210.8 L321.1,208.3 L325.0,206.0 L328.8,204.0 L332.6,201.7 L336.5,200.3 L340.3,199.6 L344.1,198.3 L348.0,197.4 L351.8,196.6 L355.6,195.3 L359.5,194.2 L363.3,193.3 L367.1,193.1 L371.0,192.4 L374.8,191.8 L378.6,191.8 L382.5,191.3 L386.3,190.9 L390.1,190.9 L394.0,191.7 L397.8,193.2 L401.6,194.5 L405.5,195.6 L409.3,196.4 L413.1,196.1 L417.0,196.8 L420.8,197.6 L424.6,198.9 L428.5,199.8 L432.3,201.0 L436.1,203.1 L440.0,205.3 L443.8,207.3 L447.6,209.6 L451.5,211.7 L455.3,213.5 L459.1,214.8 L463.0,216.6 L466.8,218.2 L470.6,220.3 L474.5,222.8 L478.3,225.2 L482.1,227.9 L486.0,230.3 L489.8,232.3 L493.6,234.5 L497.5,236.3 L501.3,237.7 L505.1,239.0 L509.0,240.7 L512.8,242.2 L516.6,243.4 L520.5,243.9 L524.3,244.7 L528.1,245.2 L532.0,245.4 L535.8,246.3 L539.6,247.0 L543.5,248.0 L547.3,249.0 L551.1,251.7 L555.0,253.9 L558.8,255.6 L562.6,258.0 L566.5,259.6 L570.3,262.8 L574.1,266.4 L578.0,270.2 L581.8,273.8 L585.6,278.0 L589.4,281.8 L593.3,285.7 L597.1,290.1 L600.9,294.0 L604.8,296.9 L608.6,300.2 L612.4,302.7 L616.3,306.1 L620.1,309.2 L623.9,311.9 L627.8,313.3 L631.6,314.9 L635.4,317.1 L639.3,319.9 L643.1,321.9 L646.9,322.8 L650.8,323.9 L654.6,323.4 L658.4,323.4 L662.3,323.8 L666.1,324.7 L669.9,325.7 L673.8,327.0 L677.6,328.4 L681.4,330.3 L685.3,331.9 L689.1,334.2 L692.9,336.4 L696.8,337.6 L700.6,338.6 L704.4,339.9 L708.3,341.3 L712.1,343.3 L715.9,344.6 L719.8,346.5 L723.6,347.9 L727.4,348.6 L731.3,349.5 L735.1,350.1 L738.9,350.9 L742.8,352.3 L746.6,353.2 L750.4,353.9 L754.3,354.2 L758.1,354.7 L761.9,354.9 L765.8,354.8 L769.6,354.7 L773.4,355.2 L777.3,355.5 L781.1,356.3 L784.9,356.9 L788.8,357.8 L792.6,359.0 L796.4,360.1 L800.3,360.4 L804.1,361.0 L807.9,360.8 L811.8,360.2 L815.6,359.9 L819.4,359.6 L823.3,358.7 L827.1,357.6 L830.9,356.0 L834.8,354.9 L838.6,353.5 L842.4,352.0 L846.3,351.4 L850.1,351.1 L853.9,350.9 L857.8,350.4 L861.6,349.6" stroke="#00dc00" stroke-width="2" fill="none" stroke-linejoin="round"/>
<path d="M2.0,370.2 L6.8,377.1 L10.7,380.6 L14.5,384.1 L18.3,386.8 L22.2,387.4 L26.0,388.4 L29.8,390.0 L33.7,389.1 L37.5,388.0 L41.3,391.0 L45.2,391.6 L49.0,392.4 L52.8,388.7 L56.7,384.5 L60.5,378.0 L64.3,372.6 L68.2,367.8 L72.0,361.7 L75.8,357.1 L79.7,352.0 L83.5,346.5 L87.3,342.2 L91.2,337.5 L95.0,332.3 L98.8,328.6 L102.7,323.1 L106.5,317.7 L110.3,310.3 L114.2,304.8 L118.0,298.9 L121.8,292.1 L125.7,285.5 L129.5,279.5 L133.3,276.1 L137.2,271.5 L141.0,268.5 L144.8,266.6 L148.7,260.2 L152.5,256.8 L156.3,254.3 L160.2,250.2 L164.0,245.0 L167.8,239.1 L171.7,232.3 L175.5,228.8 L179.3,225.4 L183.2,222.0 L187.0,217.8 L190.8,215.4 L194.7,212.7 L198.5,211.0 L202.3,211.0 L206.1,214.2 L210.0,216.6 L213.8,221.5 L217.6,226.2 L221.5,230.6 L225.3,233.0 L229.1,236.0 L233.0,238.9 L236.8,239.8 L240.6,239.5 L244.5,238.5 L248.3,237.2 L252.1,234.5 L256.0,231.3 L259.8,229.2 L263.6,225.4 L267.5,217.9 L271.3,212.5 L275.1,206.5 L279.0,200.8 L282.8,195.4 L286.6,189.4 L290.5,184.1 L294.3,180.6 L298.1,177.0 L302.0,173.1 L305.8,169.8 L309.6,166.3 L313.5,162.5 L317.3,158.4 L321.1,155.1 L325.0,152.6 L328.8,150.6 L332.6,148.1 L336.5,148.1 L340.3,150.0 L344.1,150.1 L348.0,151.2 L351.8,152.4 L355.6,151.9 L359.5,152.2 L363.3,152.7 L367.1,155.2 L371.0,156.0 L374.8,157.2 L378.6,159.8 L382.5,160.8 L386.3,162.2 L390.1,164.2 L394.0,168.7 L397.8,174.7 L401.6,180.1 L405.5,184.3 L409.3,187.4 L413.1,187.4 L417.0,190.0 L420.8,193.0 L424.6,197.0 L428.5,199.8 L432.3,203.2 L436.1,209.4 L440.0,215.4 L443.8,220.3 L447.6,226.0 L451.5,231.1 L455.3,234.7 L459.1,236.9 L463.0,240.6 L466.8,243.4 L470.6,247.6 L474.5,252.7 L478.3,257.4 L482.1,262.8 L486.0,267.0 L489.8,270.2 L493.6,273.9 L497.5,276.0 L501.3,277.1 L505.1,277.9 L509.0,279.7 L512.8,281.2 L516.6,281.7 L520.5,280.1 L524.3,279.8 L528.1,278.5 L532.0,276.6 L535.8,276.6 L539.6,276.5 L543.5,277.0 L547.3,277.7 L551.1,283.5 L555.0,287.5 L558.8,289.8 L562.6,294.3 L566.5,296.1 L570.3,302.6 L574.1,310.2 L578.0,318.0 L581.8,324.8 L585.6,333.2 L589.4,340.0 L593.3,346.9 L597.1,355.1 L600.9,361.5 L604.8,364.7 L608.6,369.0 L612.4,371.2 L616.3,375.8 L620.1,379.6 L623.9,381.9 L627.8,380.7 L631.6,380.3 L635.4,381.7 L639.3,384.9 L643.1,385.7 L646.9,383.4 L650.8,382.0 L654.6,376.1 L658.4,372.0 L662.3,369.4 L666.1,368.6 L669.9,368.0 L673.8,368.6 L677.6,369.6 L681.4,371.8 L685.3,373.4 L689.1,377.0 L692.9,379.9 L696.8,380.3 L700.6,379.9 L704.4,380.6 L708.3,381.4 L712.1,384.3 L715.9,384.9 L719.8,387.3 L723.6,388.3 L727.4,387.3 L731.3,386.7 L735.1,385.8 L738.9,385.4 L742.8,386.7 L746.6,386.9 L750.4,386.1 L754.3,384.7 L758.1,383.6 L761.9,382.1 L765.8,379.7 L769.6,377.5 L773.4,377.3 L777.3,376.5 L781.1,377.1 L784.9,377.3 L788.8,378.4 L792.6,380.4 L796.4,381.8 L800.3,381.2 L804.1,381.2 L807.9,378.9 L811.8,376.0 L815.6,373.8 L819.4,371.8 L823.3,368.2 L827.1,364.3 L830.9,359.1 L834.8,355.8 L838.6,351.6 L842.4,347.4 L846.3,345.8 L850.1,345.4 L853.9,345.2 L857.8,344.3 L861.6,342.4" stroke="#a000ff" stroke-width="2" fill="none" stroke-linejoin="round"/>
</g>
<g clip-path="url(#cd)">
<path d="M1.85,599.1h2.3v8.5h-2.3zM5.68,599.1h2.3v8.8h-2.3zM9.52,599.1h2.3v7.6h-2.3zM13.35,599.1h2.3v6.5h-2.3zM17.18,599.1h2.3v5.3h-2.3zM21.02,599.1h2.3v3.3h-2.3zM24.85,599.1h2.3v1.8h-2.3zM28.68,599.1h2.3v0.8h-2.3zM32.51,597.9h2.3v1.2h-2.3zM36.35,596.2h2.3v2.9h-2.3zM40.18,596.4h2.3v2.7h-2.3zM44.01,595.6h2.3v3.5h-2.3zM47.85,595.1h2.3v4.0h-2.3zM51.68,592.7h2.3v6.4h-2.3zM55.51,590.5h2.3v8.6h-2.3zM59.35,587.7h2.3v11.4h-2.3zM63.18,585.8h2.3v13.3h-2.3zM67.01,584.5h2.3v14.6h-2.3zM70.84,582.9h2.3v16.2h-2.3zM74.68,582.2h2.3v16.9h-2.3zM78.51,581.4h2.3v17.7h-2.3zM82.34,580.7h2.3v18.4h-2.3zM86.18,580.6h2.3v18.5h-2.3zM90.01,580.4h2.3v18.7h-2.3zM93.84,580.2h2.3v18.9h-2.3zM97.67,580.6h2.3v18.5h-2.3zM101.51,580.3h2.3v18.8h-2.3zM105.34,580.1h2.3v19.0h-2.3zM109.17,579.2h2.3v19.9h-2.3zM113.01,579.3h2.3v19.8h-2.3zM116.84,579.2h2.3v19.9h-2.3zM120.67,578.9h2.3v20.2h-2.3zM124.51,578.8h2.3v20.3h-2.3zM128.34,579.0h2.3v20.1h-2.3zM132.17,580.3h2.3v18.8h-2.3zM136.00,581.0h2.3v18.1h-2.3zM139.84,582.3h2.3v16.8h-2.3zM143.67,583.9h2.3v15.2h-2.3zM147.50,583.5h2.3v15.6h-2.3zM151.34,584.4h2.3v14.7h-2.3zM155.17,585.6h2.3v13.5h-2.3zM159.00,586.0h2.3v13.1h-2.3zM162.84,586.0h2.3v13.1h-2.3zM166.67,585.7h2.3v13.4h-2.3zM170.50,585.1h2.3v14.0h-2.3zM174.34,586.0h2.3v13.1h-2.3zM178.17,586.9h2.3v12.2h-2.3zM182.00,587.7h2.3v11.4h-2.3zM185.83,588.0h2.3v11.1h-2.3zM189.67,589.1h2.3v10.0h-2.3zM193.50,590.0h2.3v9.1h-2.3zM197.33,591.2h2.3v7.9h-2.3zM201.17,592.9h2.3v6.2h-2.3zM205.00,595.7h2.3v3.4h-2.3zM208.83,597.8h2.3v1.3h-2.3zM212.66,599.1h2.3v1.6h-2.3zM216.50,599.1h2.3v3.9h-2.3zM220.33,599.1h2.3v5.7h-2.3zM224.16,599.1h2.3v6.4h-2.3zM228.00,599.1h2.3v7.3h-2.3zM231.83,599.1h2.3v7.9h-2.3zM235.66,599.1h2.3v7.7h-2.3zM239.50,599.1h2.3v6.8h-2.3zM243.33,599.1h2.3v5.8h-2.3zM247.16,599.1h2.3v4.9h-2.3zM251.00,599.1h2.3v3.4h-2.3zM254.83,599.1h2.3v2.0h-2.3zM258.66,599.1h2.3v1.2h-2.3zM262.49,598.9h2.3v0.2h-2.3zM266.33,596.2h2.3v2.9h-2.3zM270.16,594.7h2.3v4.4h-2.3zM273.99,593.3h2.3v5.8h-2.3zM277.83,592.2h2.3v6.9h-2.3zM281.66,591.4h2.3v7.7h-2.3zM285.49,590.5h2.3v8.6h-2.3zM289.33,590.0h2.3v9.1h-2.3zM293.16,590.5h2.3v8.6h-2.3zM296.99,590.8h2.3v8.3h-2.3zM300.82,591.0h2.3v8.1h-2.3zM304.66,591.4h2.3v7.7h-2.3zM308.49,591.7h2.3v7.4h-2.3zM312.32,591.9h2.3v7.2h-2.3zM316.16,591.9h2.3v7.2h-2.3zM319.99,592.3h2.3v6.8h-2.3zM323.82,593.0h2.3v6.1h-2.3zM327.66,593.8h2.3v5.3h-2.3zM331.49,594.3h2.3v4.8h-2.3zM335.32,595.8h2.3v3.3h-2.3zM339.15,597.9h2.3v1.2h-2.3zM342.99,598.9h2.3v0.2h-2.3zM346.82,599.1h2.3v1.1h-2.3zM350.65,599.1h2.3v2.3h-2.3zM354.49,599.1h2.3v2.5h-2.3zM358.32,599.1h2.3v3.1h-2.3zM362.15,599.1h2.3v3.6h-2.3zM365.99,599.1h2.3v4.9h-2.3zM369.82,599.1h2.3v5.2h-2.3zM373.65,599.1h2.3v5.7h-2.3zM377.48,599.1h2.3v6.6h-2.3zM381.32,599.1h2.3v6.8h-2.3zM385.15,599.1h2.3v7.0h-2.3zM388.98,599.1h2.3v7.5h-2.3zM392.82,599.1h2.3v8.9h-2.3zM396.65,599.1h2.3v10.6h-2.3zM400.48,599.1h2.3v11.9h-2.3zM404.32,599.1h2.3v12.4h-2.3zM408.15,599.1h2.3v12.4h-2.3zM411.98,599.1h2.3v11.0h-2.3zM415.81,599.1h2.3v10.8h-2.3zM419.65,599.1h2.3v10.8h-2.3zM423.48,599.1h2.3v11.2h-2.3zM427.31,599.1h2.3v11.0h-2.3zM431.15,599.1h2.3v11.1h-2.3zM434.98,599.1h2.3v12.2h-2.3zM438.81,599.1h2.3v13.1h-2.3zM442.65,599.1h2.3v13.4h-2.3zM446.48,599.1h2.3v13.9h-2.3zM450.31,599.1h2.3v14.0h-2.3zM454.14,599.1h2.3v13.4h-2.3zM457.98,599.1h2.3v12.3h-2.3zM461.81,599.1h2.3v12.0h-2.3zM465.64,599.1h2.3v11.2h-2.3zM469.48,599.1h2.3v11.2h-2.3zM473.31,599.1h2.3v11.4h-2.3zM477.14,599.1h2.3v11.5h-2.3zM480.98,599.1h2.3v11.8h-2.3zM484.81,599.1h2.3v11.5h-2.3zM488.64,599.1h2.3v10.8h-2.3zM492.47,599.1h2.3v10.3h-2.3zM496.31,599.1h2.3v9.3h-2.3zM500.14,599.1h2.3v7.9h-2.3zM503.97,599.1h2.3v6.6h-2.3zM507.81,599.1h2.3v5.9h-2.3zM511.64,599.1h2.3v5.1h-2.3zM515.47,599.1h2.3v4.0h-2.3zM519.31,599.1h2.3v2.2h-2.3zM523.14,599.1h2.3v1.2h-2.3zM526.97,599.0h2.3v0.1h-2.3zM530.80,597.7h2.3v1.4h-2.3zM534.64,597.3h2.3v1.8h-2.3zM538.47,597.0h2.3v2.1h-2.3zM542.30,597.0h2.3v2.1h-2.3zM546.14,597.1h2.3v2.0h-2.3zM549.97,599.1h2.3v0.2h-2.3zM553.80,599.1h2.3v1.3h-2.3zM557.64,599.1h2.3v1.5h-2.3zM561.47,599.1h2.3v2.6h-2.3zM565.30,599.1h2.3v2.5h-2.3zM569.13,599.1h2.3v4.3h-2.3zM572.97,599.1h2.3v6.2h-2.3zM576.80,599.1h2.3v8.0h-2.3zM580.63,599.1h2.3v9.1h-2.3zM584.47,599.1h2.3v10.6h-2.3zM588.30,599.1h2.3v11.2h-2.3zM592.13,599.1h2.3v11.7h-2.3zM595.97,599.1h2.3v12.6h-2.3zM599.80,599.1h2.3v12.7h-2.3zM603.63,599.1h2.3v11.3h-2.3zM607.46,599.1h2.3v10.5h-2.3zM611.30,599.1h2.3v9.0h-2.3zM615.13,599.1h2.3v8.6h-2.3zM618.96,599.1h2.3v8.0h-2.3zM622.80,599.1h2.3v6.8h-2.3zM626.63,599.1h2.3v4.2h-2.3zM630.46,599.1h2.3v2.4h-2.3zM634.30,599.1h2.3v1.6h-2.3zM638.13,599.1h2.3v1.7h-2.3zM641.96,599.1h2.3v0.7h-2.3zM645.79,597.7h2.3v1.4h-2.3zM649.63,596.3h2.3v2.8h-2.3zM653.46,593.2h2.3v5.9h-2.3zM657.29,591.3h2.3v7.8h-2.3zM661.13,590.4h2.3v8.7h-2.3zM664.96,590.4h2.3v8.7h-2.3zM668.79,590.5h2.3v8.6h-2.3zM672.62,591.1h2.3v8.0h-2.3zM676.46,591.8h2.3v7.3h-2.3zM680.29,593.0h2.3v6.1h-2.3zM684.12,593.7h2.3v5.4h-2.3zM687.96,595.2h2.3v3.9h-2.3zM691.79,596.2h2.3v2.9h-2.3zM695.62,596.0h2.3v3.1h-2.3zM699.46,595.5h2.3v3.6h-2.3zM703.29,595.5h2.3v3.6h-2.3zM707.12,595.7h2.3v3.4h-2.3zM710.96,596.6h2.3v2.5h-2.3zM714.79,596.5h2.3v2.6h-2.3zM718.62,597.2h2.3v1.9h-2.3zM722.45,597.1h2.3v2.0h-2.3zM726.29,596.3h2.3v2.8h-2.3zM730.12,595.7h2.3v3.4h-2.3zM733.95,595.1h2.3v4.0h-2.3zM737.79,594.9h2.3v4.2h-2.3zM741.62,595.4h2.3v3.7h-2.3zM745.45,595.3h2.3v3.8h-2.3zM749.29,594.9h2.3v4.2h-2.3zM753.12,594.3h2.3v4.8h-2.3zM756.95,593.9h2.3v5.2h-2.3zM760.78,593.5h2.3v5.6h-2.3zM764.62,592.7h2.3v6.4h-2.3zM768.45,592.2h2.3v6.9h-2.3zM772.28,592.6h2.3v6.5h-2.3zM776.12,592.7h2.3v6.4h-2.3zM779.95,593.4h2.3v5.7h-2.3zM783.78,593.8h2.3v5.3h-2.3zM787.62,594.6h2.3v4.5h-2.3zM791.45,595.7h2.3v3.4h-2.3zM795.28,596.3h2.3v2.8h-2.3zM799.11,596.0h2.3v3.1h-2.3zM802.95,596.1h2.3v3.0h-2.3zM806.78,595.2h2.3v3.9h-2.3zM810.61,594.2h2.3v4.9h-2.3zM814.45,593.6h2.3v5.5h-2.3zM818.28,593.2h2.3v5.9h-2.3zM822.11,592.2h2.3v6.9h-2.3zM825.95,591.3h2.3v7.8h-2.3zM829.78,590.0h2.3v9.1h-2.3zM833.61,589.7h2.3v9.4h-2.3zM837.44,589.1h2.3v10.0h-2.3zM841.28,588.6h2.3v10.5h-2.3zM845.11,589.3h2.3v9.8h-2.3zM848.94,590.5h2.3v8.6h-2.3zM852.78,591.6h2.3v7.5h-2.3zM856.61,592.2h2.3v6.9h-2.3zM860.44,592.4h2.3v6.7h-2.3z" fill="#e2e2e2" stroke="#a0a0a0" stroke-width="0.72"/>
<path d="M2.0,657.3 L6.8,658.6 L10.7,659.6 L14.5,660.6 L18.3,661.3 L22.2,661.8 L26.0,662.0 L29.8,662.2 L33.7,662.0 L37.5,661.6 L41.3,661.2 L45.2,660.7 L49.0,660.1 L52.8,659.2 L56.7,658.0 L60.5,656.3 L64.3,654.4 L68.2,652.4 L72.0,650.0 L75.8,647.6 L79.7,645.1 L83.5,642.5 L87.3,639.8 L91.2,637.2 L95.0,634.5 L98.8,631.8 L102.7,629.1 L106.5,626.4 L110.3,623.6 L114.2,620.7 L118.0,617.9 L121.8,615.0 L125.7,612.1 L129.5,609.2 L133.3,606.5 L137.2,603.9 L141.0,601.5 L144.8,599.4 L148.7,597.1 L152.5,595.0 L156.3,593.1 L160.2,591.2 L164.0,589.4 L167.8,587.5 L171.7,585.4 L175.5,583.6 L179.3,581.8 L183.2,580.2 L187.0,578.6 L190.8,577.2 L194.7,575.9 L198.5,574.8 L202.3,573.9 L206.1,573.4 L210.0,573.2 L213.8,573.4 L217.6,574.0 L221.5,574.8 L225.3,575.7 L229.1,576.8 L233.0,577.9 L236.8,579.0 L240.6,580.0 L244.5,580.8 L248.3,581.5 L252.1,582.0 L256.0,582.3 L259.8,582.4 L263.6,582.4 L267.5,582.0 L271.3,581.4 L275.1,580.5 L279.0,579.5 L282.8,578.4 L286.6,577.2 L290.5,575.9 L294.3,574.7 L298.1,573.5 L302.0,572.3 L305.8,571.2 L309.6,570.2 L313.5,569.2 L317.3,568.1 L321.1,567.2 L325.0,566.3 L328.8,565.5 L332.6,564.9 L336.5,564.4 L340.3,564.2 L344.1,564.2 L348.0,564.4 L351.8,564.7 L355.6,565.0 L359.5,565.5 L363.3,566.0 L367.1,566.7 L371.0,567.4 L374.8,568.2 L378.6,569.2 L382.5,570.2 L386.3,571.2 L390.1,572.2 L394.0,573.5 L397.8,575.0 L401.6,576.7 L405.5,578.5 L409.3,580.2 L413.1,581.8 L417.0,583.4 L420.8,584.9 L424.6,586.5 L428.5,588.1 L432.3,589.7 L436.1,591.4 L440.0,593.3 L443.8,595.2 L447.6,597.2 L451.5,599.2 L455.3,601.1 L459.1,602.9 L463.0,604.6 L466.8,606.2 L470.6,607.8 L474.5,609.4 L478.3,611.0 L482.1,612.7 L486.0,614.4 L489.8,615.9 L493.6,617.4 L497.5,618.7 L501.3,619.8 L505.1,620.8 L509.0,621.6 L512.8,622.3 L516.6,622.9 L520.5,623.2 L524.3,623.4 L528.1,623.4 L532.0,623.2 L535.8,622.9 L539.6,622.6 L543.5,622.3 L547.3,622.1 L551.1,622.1 L555.0,622.3 L558.8,622.5 L562.6,622.8 L566.5,623.2 L570.3,623.8 L574.1,624.7 L578.0,625.8 L581.8,627.1 L585.6,628.7 L589.4,630.3 L593.3,631.9 L597.1,633.7 L600.9,635.5 L604.8,637.2 L608.6,638.7 L612.4,639.9 L616.3,641.2 L620.1,642.3 L623.9,643.3 L627.8,643.9 L631.6,644.2 L635.4,644.5 L639.3,644.7 L643.1,644.8 L646.9,644.6 L650.8,644.2 L654.6,643.4 L658.4,642.2 L662.3,641.0 L666.1,639.8 L669.9,638.5 L673.8,637.4 L677.6,636.3 L681.4,635.5 L685.3,634.7 L689.1,634.1 L692.9,633.7 L696.8,633.3 L700.6,632.8 L704.4,632.2 L708.3,631.8 L712.1,631.4 L715.9,631.0 L719.8,630.7 L723.6,630.5 L727.4,630.1 L731.3,629.6 L735.1,629.0 L738.9,628.4 L742.8,627.9 L746.6,627.3 L750.4,626.7 L754.3,626.1 L758.1,625.3 L761.9,624.5 L765.8,623.6 L769.6,622.6 L773.4,621.7 L777.3,620.8 L781.1,620.0 L784.9,619.2 L788.8,618.6 L792.6,618.1 L796.4,617.7 L800.3,617.2 L804.1,616.8 L807.9,616.2 L811.8,615.5 L815.6,614.7 L819.4,613.9 L823.3,612.9 L827.1,611.8 L830.9,610.5 L834.8,609.1 L838.6,607.7 L842.4,606.2 L846.3,604.8 L850.1,603.6 L853.9,602.5 L857.8,601.5 L861.6,600.6" stroke="#00dcdc" stroke-width="1.15" fill="none"/>
<path d="M2.0,665.8 L6.8,667.3 L10.7,667.2 L14.5,667.1 L18.3,666.6 L22.2,665.1 L26.0,663.8 L29.8,662.9 L33.7,660.8 L37.5,658.6 L41.3,658.5 L45.2,657.2 L49.0,656.1 L52.8,652.8 L56.7,649.4 L60.5,645.0 L64.3,641.2 L68.2,637.8 L72.0,633.8 L75.8,630.7 L79.7,627.4 L83.5,624.0 L87.3,621.3 L91.2,618.5 L95.0,615.5 L98.8,613.3 L102.7,610.3 L106.5,607.4 L110.3,603.6 L114.2,600.9 L118.0,598.0 L121.8,594.8 L125.7,591.8 L129.5,589.1 L133.3,587.7 L137.2,585.8 L141.0,584.7 L144.8,584.2 L148.7,581.5 L152.5,580.4 L156.3,579.6 L160.2,578.2 L164.0,576.3 L167.8,574.0 L171.7,571.4 L175.5,570.5 L179.3,569.6 L183.2,568.8 L187.0,567.6 L190.8,567.2 L194.7,566.8 L198.5,566.8 L202.3,567.7 L206.1,570.0 L210.0,571.9 L213.8,575.0 L217.6,577.9 L221.5,580.5 L225.3,582.2 L229.1,584.1 L233.0,585.8 L236.8,586.7 L240.6,586.8 L244.5,586.6 L248.3,586.4 L252.1,585.4 L256.0,584.2 L259.8,583.6 L263.6,582.2 L267.5,579.1 L271.3,577.0 L275.1,574.7 L279.0,572.6 L282.8,570.8 L286.6,568.6 L290.5,566.8 L294.3,566.1 L298.1,565.2 L302.0,564.2 L305.8,563.6 L309.6,562.8 L313.5,561.9 L317.3,561.0 L321.1,560.4 L325.0,560.2 L328.8,560.3 L332.6,560.1 L336.5,561.1 L340.3,563.1 L344.1,564.0 L348.0,565.5 L351.8,566.9 L355.6,567.6 L359.5,568.5 L363.3,569.5 L367.1,571.5 L371.0,572.7 L374.8,573.9 L378.6,575.8 L382.5,576.9 L386.3,578.2 L390.1,579.7 L394.0,582.4 L397.8,585.6 L401.6,588.6 L405.5,590.9 L409.3,592.6 L413.1,592.8 L417.0,594.2 L420.8,595.7 L424.6,597.7 L428.5,599.1 L432.3,600.8 L436.1,603.6 L440.0,606.4 L443.8,608.6 L447.6,611.1 L451.5,613.2 L455.3,614.5 L459.1,615.2 L463.0,616.5 L466.8,617.4 L470.6,618.9 L474.5,620.8 L478.3,622.5 L482.1,624.5 L486.0,625.9 L489.8,626.7 L493.6,627.7 L497.5,628.0 L501.3,627.7 L505.1,627.4 L509.0,627.5 L512.8,627.5 L516.6,626.9 L520.5,625.5 L524.3,624.6 L528.1,623.3 L532.0,621.8 L535.8,621.2 L539.6,620.5 L543.5,620.2 L547.3,620.0 L551.1,622.2 L555.0,623.5 L558.8,624.0 L562.6,625.5 L566.5,625.7 L570.3,628.1 L574.1,631.0 L578.0,633.8 L581.8,636.2 L585.6,639.2 L589.4,641.5 L593.3,643.6 L597.1,646.4 L600.9,648.2 L604.8,648.5 L608.6,649.2 L612.4,648.9 L616.3,649.8 L620.1,650.3 L623.9,650.1 L627.8,648.1 L631.6,646.7 L635.4,646.1 L639.3,646.4 L643.1,645.5 L646.9,643.2 L650.8,641.4 L654.6,637.4 L658.4,634.5 L662.3,632.3 L666.1,631.0 L669.9,629.9 L673.8,629.4 L677.6,629.1 L681.4,629.3 L685.3,629.3 L689.1,630.2 L692.9,630.8 L696.8,630.2 L700.6,629.1 L704.4,628.7 L708.3,628.3 L712.1,628.9 L715.9,628.4 L719.8,628.8 L723.6,628.5 L727.4,627.2 L731.3,626.2 L735.1,625.0 L738.9,624.2 L742.8,624.2 L746.6,623.6 L750.4,622.6 L754.3,621.3 L758.1,620.2 L761.9,618.9 L765.8,617.2 L769.6,615.7 L773.4,615.2 L777.3,614.3 L781.1,614.2 L784.9,613.9 L788.8,614.1 L792.6,614.6 L796.4,614.9 L800.3,614.2 L804.1,613.8 L807.9,612.3 L811.8,610.6 L815.6,609.2 L819.4,608.0 L823.3,606.0 L827.1,604.0 L830.9,601.4 L834.8,599.7 L838.6,597.7 L842.4,595.8 L846.3,595.1 L850.1,595.0 L853.9,595.0 L857.8,594.6 L861.6,593.9" stroke="#ff2a2a" stroke-width="1.15" fill="none"/>
</g>
<path d="M1.85,540V15.5H1151.5V540" stroke="#333" stroke-width="1.2" fill="none"/>
<path d="M1.3,539.6H1152.1" stroke="#333" stroke-width="1.2" fill="none"/>
<path d="M1.85,676V549.7H1151.5V676" stroke="#333" stroke-width="1.2" fill="none"/>
<path d="M0,542.6H1200M0,545.2H1200" stroke="#dadada" stroke-width="1" fill="none"/>
<path d="M922.7,409.2Q954,444 993,437.9" stroke="#0808fa" stroke-width="2.4" fill="none" stroke-linecap="round"/>
<path d="M1007.2,430.7L987.8,431.4L991.4,447.6z" fill="#0808fa"/>
<path d="M867.2,320L872.2,315.2V324.8z" fill="#f0106a"/>
<text x="137.5" y="142.2" fill="#ff7010" stroke="#ff7010" stroke-width="0.28" font-size="9.35" text-anchor="start" >156.746</text>
<text x="286.6" y="100.3" fill="#ff7010" stroke="#ff7010" stroke-width="0.28" font-size="9.35" text-anchor="start" >158.866</text>
<text x="183" y="312.5" fill="#08cc08" stroke="#08cc08" stroke-width="0.28" font-size="9.35" text-anchor="start" >148.644</text>
<text x="562" y="483.8" fill="#08cc08" stroke="#08cc08" stroke-width="0.28" font-size="9.35" text-anchor="start" >139.883</text>
<text x="796.8" y="290.6" fill="#ff7010" stroke="#ff7010" stroke-width="0.28" font-size="9.35" text-anchor="start" >149.184</text>
<text x="876.2" y="318.8" fill="#f0206a" stroke="#f0206a" stroke-width="0.28" font-size="9.35" text-anchor="start" >147.682</text>
<text x="876.2" y="328.6" fill="#10c8f0" stroke="#10c8f0" stroke-width="0.28" font-size="9.35" text-anchor="start" >147.642</text>
<text x="6.9" y="490.3" fill="#08cc08" stroke="#08cc08" stroke-width="0.28" font-size="9.35" text-anchor="end" clip-path="url(#cm)">139.576</text>
<text x="901" y="360.5" fill="#0808fa" font-size="17.45" class="jp" stroke="#0808fa" stroke-width="0.3">下降トレンドの</text>
<text x="901" y="391" fill="#0808fa" font-size="17.45" class="jp" stroke="#0808fa" stroke-width="0.3">終わり？</text>
</svg>
<div class="xl" style="left:44.5px">2024<s>/</s>10</div>
<div class="xl" style="left:132.3px">2024<s>/</s>11</div>
<div class="xl" style="left:213.0px">2024<s>/</s>12</div>
<div class="xl" style="left:297.3px">2025<s>/</s>01</div>
<div class="xl" style="left:382.2px">2025<s>/</s>02</div>
<div class="xl" style="left:458.3px">2025<s>/</s>03</div>
<div class="xl" style="left:538.9px">2025<s>/</s>04</div>
<div class="xl" style="left:623.2px">2025<s>/</s>05</div>
<div class="xl" style="left:707.3px">2025<s>/</s>06</div>
<div class="xl" style="left:788.3px">2025<s>/</s>07</div>
<div class="yl" style="top:523.0px">137.000</div>
<div class="yl" style="top:503.4px">138.000</div>
<div class="yl" style="top:483.8px">139.000</div>
<div class="yl" style="top:464.1px">140.000</div>
<div class="yl" style="top:444.5px">141.000</div>
<div class="yl" style="top:424.9px">142.000</div>
<div class="yl" style="top:405.3px">143.000</div>
<div class="yl" style="top:385.7px">144.000</div>
<div class="yl" style="top:366.1px">145.000</div>
<div class="yl" style="top:346.5px">146.000</div>
<div class="yl" style="top:326.8px">147.000</div>
<div class="yl" style="top:307.2px">148.000</div>
<div class="yl" style="top:287.6px">149.000</div>
<div class="yl" style="top:268.0px">150.000</div>
<div class="yl" style="top:248.4px">151.000</div>
<div class="yl" style="top:228.8px">152.000</div>
<div class="yl" style="top:209.1px">153.000</div>
<div class="yl" style="top:189.5px">154.000</div>
<div class="yl" style="top:169.9px">155.000</div>
<div class="yl" style="top:150.3px">156.000</div>
<div class="yl" style="top:130.7px">157.000</div>
<div class="yl" style="top:111.1px">158.000</div>
<div class="yl" style="top:91.5px">159.000</div>
<div class="yl" style="top:71.8px">160.000</div>
<div class="yl" style="top:52.2px">161.000</div>
<div class="yl" style="top:32.6px">162.000</div>
<div class="yl" style="top:13.0px">163.000</div>
<div class="yl" style="top:564.1px">200.0000</div>
<div class="yl" style="top:592.6px">0.0000</div>
<div class="yl" style="top:621.2px">-200.0000</div>
<div class="yl" style="top:649.7px">-400.0000</div>
<div class="panel" style="top:19.1px;height:78.65px"><div class="hd" style="height:14.40px"><span class="ttl" style="top:-0.6px">2025<s>/</s>07<s>/</s>25</span><span class="mn" style="top:-0.6px">-</span><span class="cl" style="top:-0.8px">x</span></div><div class="bd" style="height:64.25px"></div><div class="row" style="top:16.00px"><span class="k"><b>始値</b></span><span class="v">146.953</span></div><div class="row" style="top:31.00px"><span class="k"><b>高値</b></span><span class="v">147.940</span></div><div class="row" style="top:46.00px"><span class="k"><b>安値</b></span><span class="v">146.810</span></div><div class="row" style="top:61.00px"><span class="k"><b>終値</b></span><span class="v">147.642</span></div></div>
<div class="panel" style="top:97.75px;height:59.85px"><div class="hd" style="height:14.70px"><span class="ttl" style="top:-0.6px"><b>指数平滑移動平均</b></span><span class="mn" style="top:-0.6px">-</span><span class="cl" style="top:-0.8px">x</span></div><div class="bd" style="height:45.15px"></div><div class="row" style="top:15.65px"><i style="background:#a000ff"></i><span class="k2"><b>短期</b>[25]</span><span class="v">146.533</span></div><div class="row" style="top:30.65px"><i style="background:#00dc00"></i><span class="k2"><b>中期</b>[75]</span><span class="v">146.169</span></div><div class="row" style="top:45.65px"><i style="background:#ff6a00"></i><span class="k2"><b>長期</b>[200]</span><span class="v">147.923</span></div></div>
<div class="panel" style="top:157.6px;height:74.20px"><div class="hd" style="height:14.60px"><span class="ttl" style="top:-0.6px"><b>ボリンジャーバンド</b></span><span class="mn" style="top:-0.6px">-</span><span class="cl" style="top:-0.8px">x</span></div><div class="bd" style="height:59.60px"></div><div class="row" style="top:15.90px"><i style="background:#6c6c70"></i><span class="k2"><b>偏差</b>A<b>上</b>[1.00]</span><span class="v">147.843</span></div><div class="row" style="top:30.90px"><i style="background:#6c6c70"></i><span class="k2"><b>偏差</b>A<b>下</b>[1.00]</span><span class="v">144.612</span></div><div class="row" style="top:45.90px"><i style="background:#a6a698"></i><span class="k2"><b>偏差</b>B<b>上</b>[2.00]</span><span class="v">149.458</span></div><div class="row" style="top:60.90px"><i style="background:#a6a698"></i><span class="k2"><b>偏差</b>B<b>下</b>[2.00]</span><span class="v">142.996</span></div></div>
<div class="panel" style="top:553.0px;height:59.70px"><div class="hd" style="height:14.80px"><span class="ttl" style="top:-0.6px">MACD</span><span class="mn" style="top:-0.6px">-</span><span class="cl" style="top:-0.8px">x</span></div><div class="bd" style="height:44.90px"></div><div class="row" style="top:15.60px"><i style="background:#ff2a2a"></i><span class="k2">MACD[25<u>-</u>75]</span><span class="v">36.4002</span></div><div class="row" style="top:30.70px"><i style="background:#00dcdc"></i><span class="k2"><b>シグナル</b>[15]</span><span class="v"><u>-</u>10.4389</span></div><div class="row" style="top:45.90px"><i style="background:#a6a698"></i><span class="k2"><b>乖離</b></span><span class="v">46.8391</span></div></div>
</div></body></html>
